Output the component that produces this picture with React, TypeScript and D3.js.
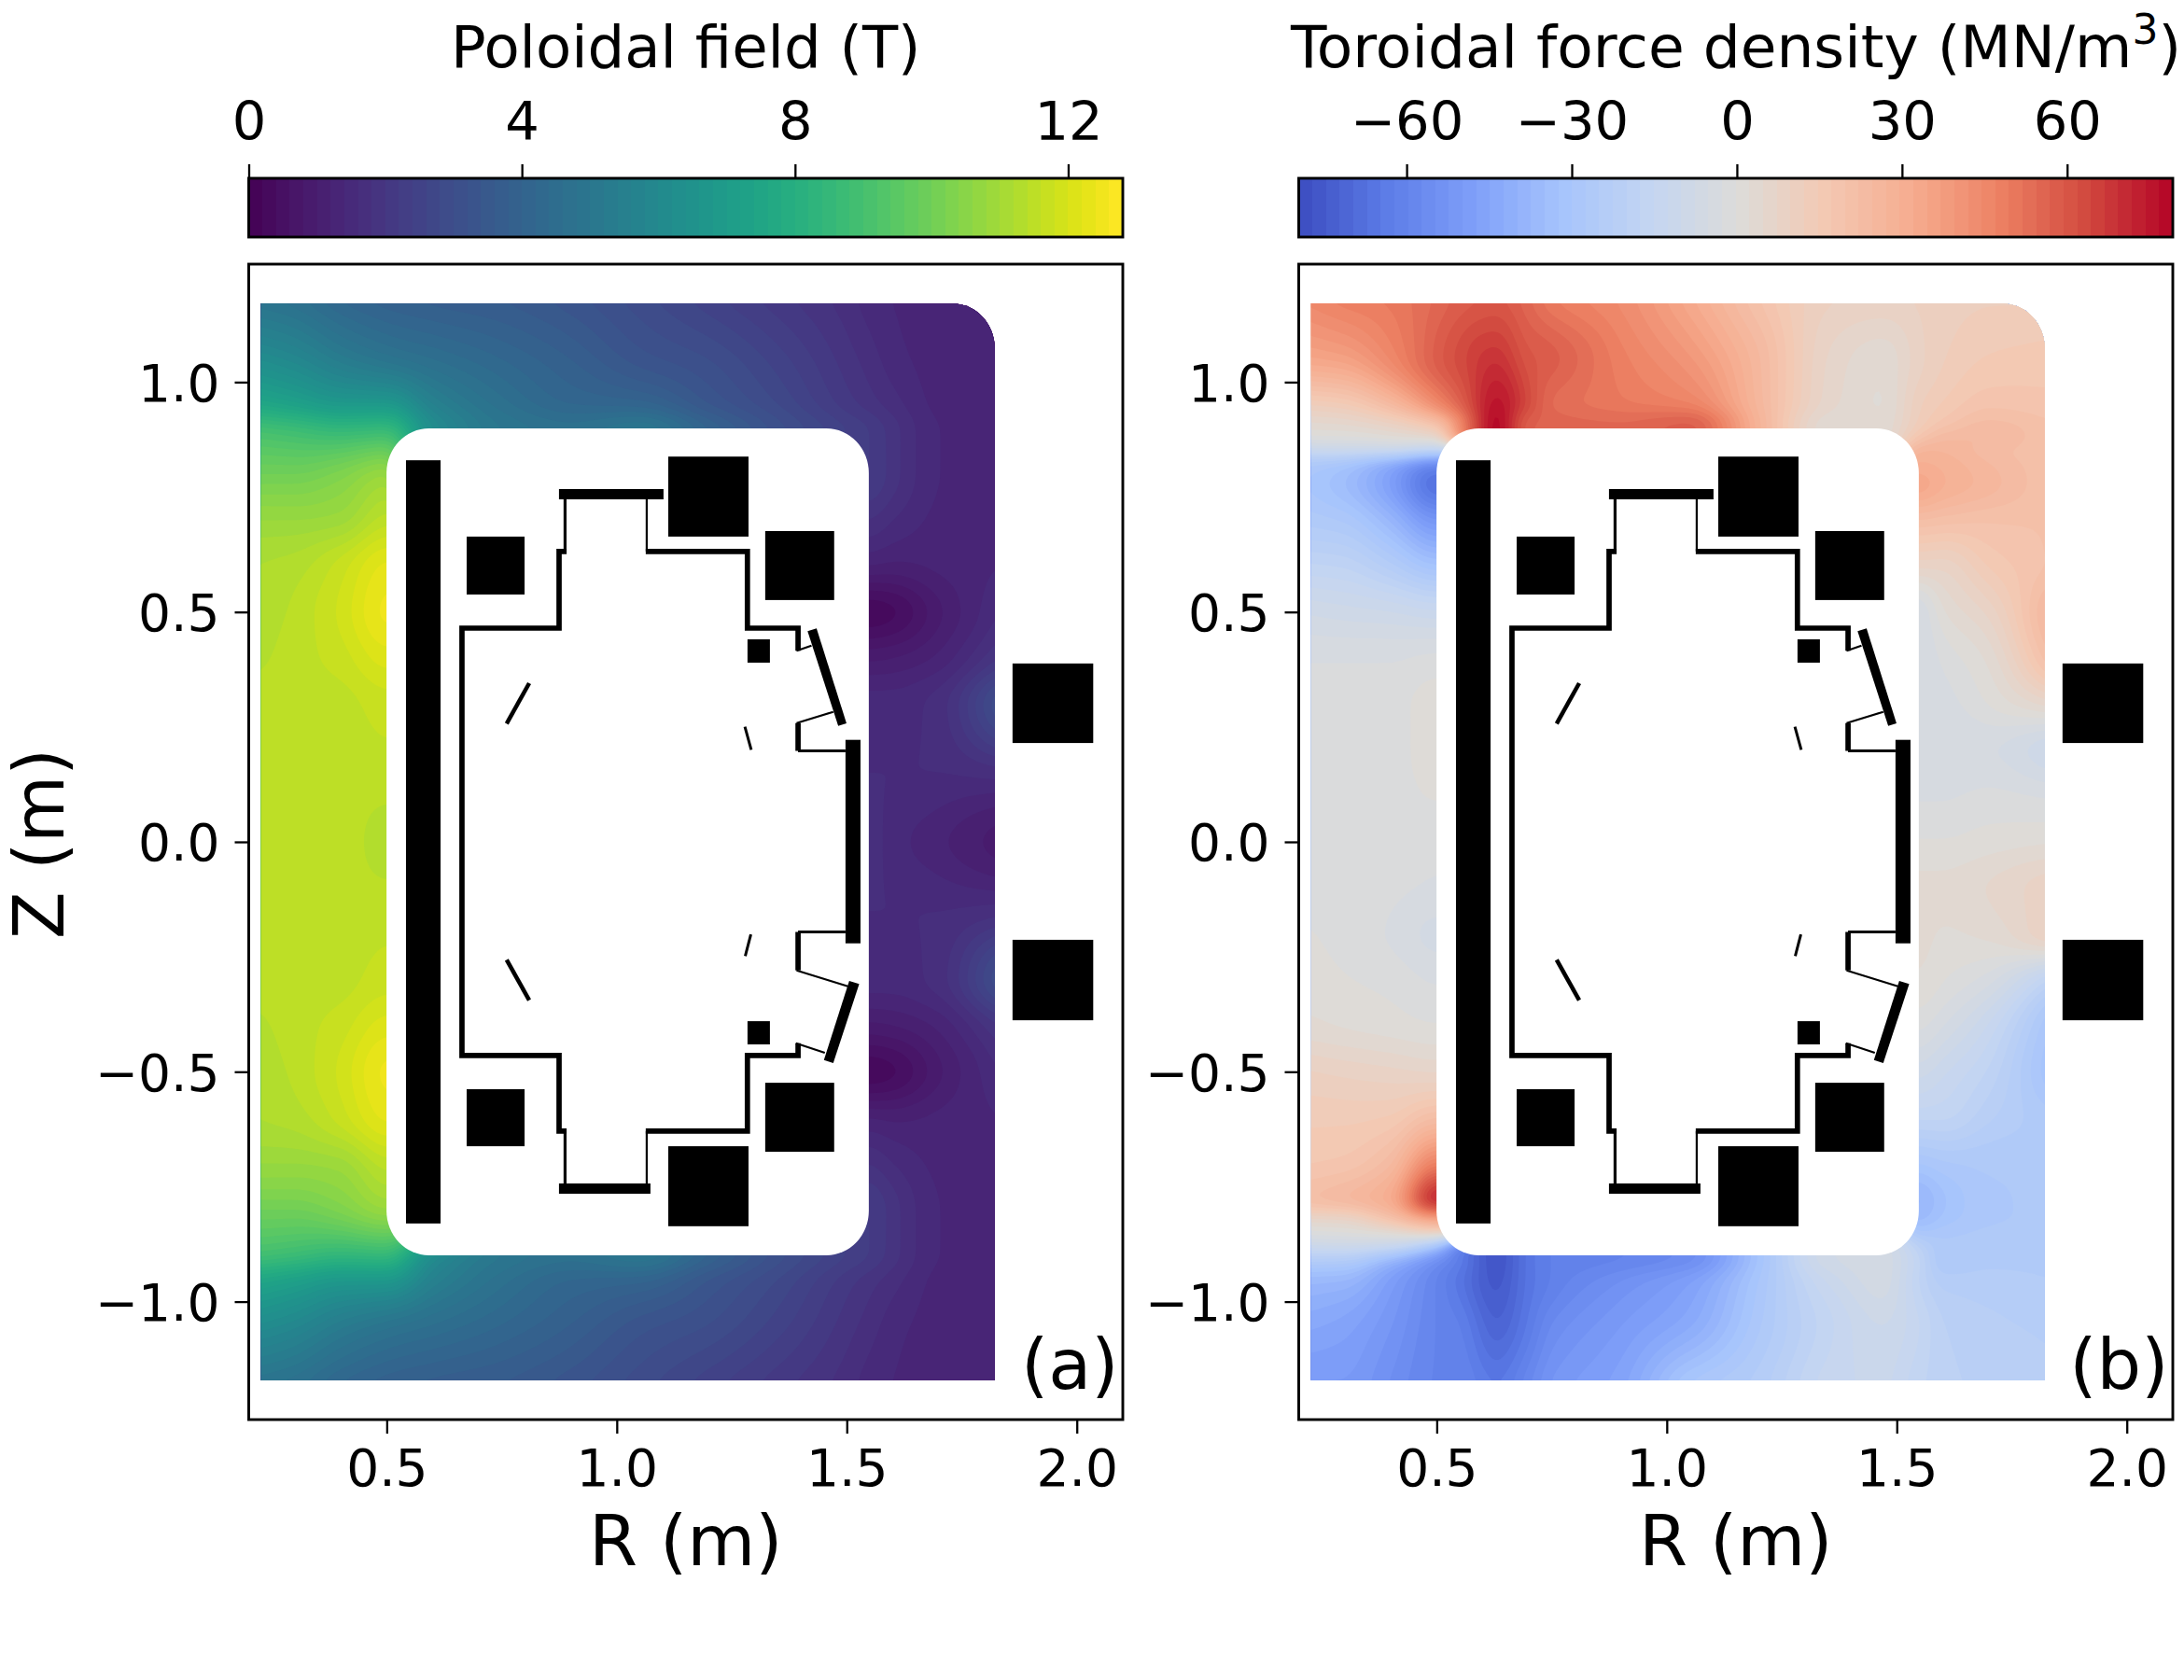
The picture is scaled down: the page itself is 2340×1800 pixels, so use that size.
import React, { useEffect, useRef } from 'react';
import * as d3 from 'd3';

type Pt = [number, number];
type Cell = number | null;

// axes (metres) and colour bars
const rLimits = [0.2, 2.1];
const zLimits = [-1.2566, 1.2566];
const rTicks = [0.5, 1.0, 1.5, 2.0];
const zTicks = [-1.0, -0.5, 0.0, 0.5, 1.0];
const fieldLimits = [0, 12.8];
const fieldTicks = [0, 4, 8, 12];
const forceLimits = [-79.6, 79.2];
const forceTicks = [-60, -30, 0, 30, 60];
const levelCount = 64;

// coolwarm as sampled from the reference colour bar, d3 has no such scheme
const coolwarmStops = ['#3b4cc0', '#5c7ce7', '#7f9ff9', '#a6c4fc', '#c3d5f2', '#dcdcda', '#f3c9b4', '#f6ad90', '#ed8264', '#d24a3f', '#b40426'];

// outline of the sampled region
const regionR = [0.2271, 1.8215];
const regionZ = [-1.171, 1.171];
const holeR = [0.4995, 1.5479];
const holeZ = [-0.8993, 0.8993];
const cornerR = 0.092;
const cornerZ = 0.097;

// machine cross-section: [Rmin, Rmax, Zmin, Zmax]
const solenoid = [[0.5418, 0.617, -0.83, 0.83]];
const coils = [
  [0.6737, 0.7996, 0.538, 0.664], [0.6737, 0.7996, -0.662, -0.538],
  [1.112, 1.2864, 0.664, 0.838], [1.112, 1.2864, -0.836, -0.662],
  [1.3227, 1.4726, 0.526, 0.676], [1.3227, 1.4726, -0.674, -0.524],
  [1.2842, 1.3329, 0.3898, 0.4405], [1.2842, 1.3329, -0.4405, -0.39],
  [1.8603, 2.0357, 0.215, 0.388], [1.8603, 2.0357, -0.388, -0.213],
];
const plates = [
  [0.8744, 1.1016, 0.745, 0.7674], [0.8744, 1.0732, -0.7653, -0.743],
  [1.4972, 1.5298, -0.2207, 0.2219],
];
const slantedPlates: Pt[][] = [
  [[1.4148, 0.4582], [1.4343, 0.4643], [1.4994, 0.2578], [1.4814, 0.2523]],
  [[1.5053, -0.3025], [1.527, -0.3092], [1.4706, -0.4811], [1.4503, -0.4744]],
];
const wallHeavy: Pt[][] = [
  [[0.891, 0.6317], [0.8746, 0.6317], [0.8746, 0.4649], [0.6635, 0.4649], [0.6635, -0.4645], [0.8746, -0.4645], [0.8746, -0.6289], [0.891, -0.6289]],
  [[1.063, 0.6317], [1.284, 0.6317], [1.284, 0.4649], [1.3941, 0.4649], [1.3941, 0.4155]],
  [[1.3941, -0.4379], [1.3941, -0.4645], [1.284, -0.4645], [1.284, -0.6289], [1.063, -0.6289]],
  [[1.3941, 0.2584], [1.3941, 0.1979]],
  [[1.3941, -0.1959], [1.3941, -0.2795]],
];
const wallMedium: Pt[][] = [
  [[0.8876, 0.6317], [0.8876, 0.745]],
  [[0.8876, -0.6289], [0.8876, -0.743]],
  [[1.3941, 0.1979], [1.4972, 0.1979]],
  [[1.3941, -0.1959], [1.4972, -0.1959]],
];
const wallLight: Pt[][] = [
  [[1.0651, 0.6317], [1.0651, 0.745]],
  [[1.0651, -0.6289], [1.0651, -0.743]],
  [[1.3909, 0.4155], [1.4233, 0.4269]],
  [[1.3909, 0.2584], [1.4706, 0.2828]],
  [[1.3909, -0.2795], [1.5024, -0.314]],
  [[1.3895, -0.4379], [1.4523, -0.4588]],
];
const tilesWide: Pt[][] = [
  [[0.7606, 0.2572], [0.8097, 0.3451]],
  [[0.7606, -0.2564], [0.8097, -0.3445]],
];
const tilesNarrow: Pt[][] = [
  [[1.2785, 0.2503], [1.2923, 0.2004]],
  [[1.2915, -0.201], [1.2793, -0.2483]],
];

// values; null = covered by the white machine area
const h7: Cell[] = Array(7).fill(null);
const h9: Cell[] = Array(9).fill(null);

const poloidalR = [0.22, 0.3, 0.4, 0.5, 0.6, 0.75, 0.9, 1.05, 1.2, 1.35, 1.5, 1.55, 1.6, 1.7, 1.83];
const poloidalZHalf = [1.17, 1.05, 0.95, 0.9, 0.8, 0.7, 0.6, 0.5, 0.4, 0.3, 0.15, 0];
const poloidalHalf: Cell[][] = [
  [4.9, 4.7, 4.2, 3.9, 3.75, 3.6, 3.3, 2.9, 2.5, 2.1, 1.7, 1.5, 1.4, 1.2, 1.2],
  [6.2, 5.9, 5.3, 4.9, 4.6, 4.2, 3.8, 3.3, 3.0, 2.5, 1.9, 1.7, 1.5, 1.3, 1.25],
  [7.6, 7.3, 6.9, 6.9, 5.6, 4.7, 4.2, 4.1, 3.4, 2.8, 2.1, 1.9, 1.7, 1.35, 1.3],
  [8.9, 8.7, 8.4, 8.5, 6.2, 5.0, 4.7, 5.0, 4.0, 3.1, 2.4, 2.2, 1.9, 1.4, 1.3],
  [10.0, 10.0, 10.3, 10.8, ...h7, 2.2, 1.9, 1.4, 1.3],
  [10.8, 10.8, 10.9, 11.5, ...h7, 1.8, 1.6, 1.35, 1.3],
  [11.2, 11.3, 11.7, 12.25, ...h7, 1.2, 1.15, 1.25, 1.4],
  [11.25, 11.45, 11.85, 12.45, ...h7, 0.25, 0.35, 0.95, 1.6],
  [11.35, 11.5, 11.7, 12.1, ...h7, 0.95, 1.0, 1.25, 2.0],
  [11.48, 11.5, 11.52, 11.7, ...h7, 1.5, 1.5, 1.7, 3.0],
  [11.5, 11.5, 11.5, 11.52, ...h7, 1.6, 1.6, 1.6, 1.7],
  [11.5, 11.5, 11.5, 11.3, ...h7, 1.7, 1.5, 1.25, 0.9],
];
const poloidalZ = [...poloidalZHalf, ...poloidalZHalf.slice(0, -1).reverse().map(z => -z)];
const poloidalRows = [...poloidalHalf, ...poloidalHalf.slice(0, -1).reverse()];

const forceR = [0.22, 0.3, 0.4, 0.5, 0.55, 0.63, 0.7, 0.75, 0.9, 1.05, 1.2, 1.35, 1.47, 1.55, 1.6, 1.7, 1.83];
const forceZ = [1.17, 1.05, 0.95, 0.91, 0.88, 0.85, 0.82, 0.78, 0.7, 0.6, 0.5, 0.4, 0.3, 0.2, 0.1, 0, -0.1, -0.2, -0.3, -0.4, -0.5, -0.6, -0.7, -0.78, -0.82, -0.85, -0.88, -0.91, -0.95, -1.05, -1.17];
const forceRows: Cell[][] = [
  [45, 48, 50, 55, 58, 60, 55, 50, 44, 33, 20, 10, 9, 10, 11, 12, 12],
  [34, 36, 45, 58, 63, 69, 60, 58, 48, 40, 25, 7, 3, 9, 12, 15, 16],
  [12, 14, 24, 44, 56, 76, 63, 54, 50, 47, 26, 6, 2, 12, 15, 19, 18],
  [4, 5, 9, 20, 44, 79, 57, 56, 55, 58, 28, 3, 3, 13, 18, 23, 20],
  [0, 0, 2, 6, ...h9, 18, 24, 25, 20],
  [-13, -12, -12, -18, ...h9, 28, 27, 23, 20],
  [-28, -32, -45, -60, ...h9, 30, 29, 25, 20],
  [-30, -35, -48, -68, ...h9, 34, 30, 26, 20],
  [-26, -28, -38, -52, ...h9, 22, 21, 20, 20],
  [-17, -18, -24, -32, ...h9, 8, 8, 15, 20],
  [-8, -9, -10, -12, ...h9, -5, 2, 8, 26],
  [-3, -3, -3, -2, ...h9, -5, -2, 3, 22],
  [-1, -1, -1, 1, ...h9, -5, -4, 0, 6],
  [-1, -1, -1, 1, ...h9, -5, -5, -5, -10],
  [-1, -1, -1, 0, ...h9, -3, -3, -2, -3],
  [-1, -1, -1, -2, ...h9, 0, 0, 1, 2],
  [-1, -1, -2, -3, ...h9, 3, 3, 5, 9],
  [0, -1, -3, -6, ...h9, 3, 2, 3, 10],
  [1, 0, -1, -3, ...h9, 2, 0, -4, -18],
  [3, 2, 1, 0, ...h9, -2, -5, -13, -30],
  [10, 9, 8, 7, ...h9, -9, -12, -18, -32],
  [14, 14, 15, 22, ...h9, -17, -17, -22, -27],
  [17, 18, 24, 48, ...h9, -30, -28, -27, -27],
  [22, 25, 32, 72, ...h9, -38, -33, -28, -27],
  [6, 7, 20, 35, ...h9, -36, -32, -28, -27],
  [-1, 0, 2, 10, ...h9, -30, -28, -27, -27],
  [-11, -10, -12, -32, ...h9, -20, -27, -27, -27],
  [-24, -25, -38, -55, -63, -77, -66, -62, -60, -56, -32, -8, -6, -17, -28, -26, -26],
  [-36, -37, -48, -60, -66, -76, -66, -62, -55, -48, -30, -12, -6, -18, -24, -24, -25],
  [-44, -46, -52, -60, -62, -72, -64, -57, -50, -43, -28, -16, -10, -15, -20, -22, -23],
  [-50, -50, -55, -60, -60, -65, -58, -52, -46, -30, -24, -14, -12, -17, -19, -21, -22],
];

const FONT = '"DejaVu Sans", sans-serif';
const GRID_STEP = 3; // px per sample of the contour grid

// hidden cells take the closest visible value so the hole edge stays clean
function fillHidden(rows: Cell[][], rs: number[], zs: number[]): number[][] {
  const known: { r: number; z: number; v: number }[] = [];
  rows.forEach((row, j) => row.forEach((v, i) => {
    if (v !== null) known.push({ r: rs[i], z: zs[j], v });
  }));
  return rows.map((row, j) => row.map((v, i) => {
    if (v !== null) return v;
    const near = d3.least(known, k => (k.r - rs[i]) ** 2 + (k.z - zs[j]) ** 2);
    return near ? near.v : 0;
  }));
}

// monotone cubic through the table nodes, no overshoot between them
function monotoneSpline(xs: number[], ys: number[]) {
  const n = xs.length;
  const d = d3.range(n - 1).map(i => (ys[i + 1] - ys[i]) / (xs[i + 1] - xs[i]));
  const m = xs.map((_, i) => {
    if (i === 0) return d[0];
    if (i === n - 1) return d[n - 2];
    return d[i - 1] * d[i] <= 0 ? 0 : (2 * d[i - 1] * d[i]) / (d[i - 1] + d[i]);
  });
  return (i0: number, t: number) => {
    const h = xs[i0 + 1] - xs[i0];
    const t2 = t * t;
    const t3 = t2 * t;
    return (2 * t3 - 3 * t2 + 1) * ys[i0] + (t3 - 2 * t2 + t) * h * m[i0] +
      (-2 * t3 + 3 * t2) * ys[i0 + 1] + (t3 - t2) * h * m[i0 + 1];
  };
}

interface PanelConfig {
  key: string;
  left: number;
  width: number;
  rows: Cell[][];
  rNodes: number[];
  zNodes: number[];
  limits: number[];
  ticks: number[];
  color: (t: number) => string;
  letter: string;
}

function drawPanel(svg: d3.Selection<SVGSVGElement, unknown, null, undefined>, cfg: PanelConfig) {
  const top = 283;
  const bottom = 1521;
  const barTop = 191;
  const barBottom = 254;
  const right = cfg.left + cfg.width;

  const x = d3.scaleLinear().domain(rLimits).range([cfg.left, right]);
  const y = d3.scaleLinear().domain(zLimits).range([bottom, top]);
  const bar = d3.scaleLinear().domain(cfg.limits).range([cfg.left, right]);

  const levels = d3.range(levelCount + 1).map(i => cfg.limits[0] + (cfg.limits[1] - cfg.limits[0]) * i / levelCount);
  const bandColor = (k: number) => cfg.color((k + 0.5) / levelCount);

  // resample the read-off table on a regular grid, then contour it
  const table = fillHidden(cfg.rows, cfg.rNodes, cfg.zNodes);
  const rIndex = d3.scaleLinear().domain(cfg.rNodes).range(d3.range(cfg.rNodes.length)).clamp(true);
  const zIndex = d3.scaleLinear().domain(cfg.zNodes).range(d3.range(cfg.zNodes.length)).clamp(true);
  const rStart = regionR[0] - 0.02;
  const zStart = regionZ[1] + 0.02;
  const dr = GRID_STEP / (x(1) - x(0));
  const dz = GRID_STEP / (y(0) - y(1));
  const nx = Math.ceil((regionR[1] - regionR[0] + 0.04) / dr) + 1;
  const nz = Math.ceil((regionZ[1] - regionZ[0] + 0.04) / dz) + 1;

  const rowSplines = table.map(row => monotoneSpline(cfg.rNodes, row));
  const values = new Float64Array(nx * nz);
  for (let i = 0; i < nx; i++) {
    const fr = rIndex(rStart + i * dr);
    const i0 = Math.min(Math.floor(fr), cfg.rNodes.length - 2);
    const column = rowSplines.map(s => s(i0, fr - i0));
    const columnSpline = monotoneSpline(cfg.zNodes, column);
    for (let j = 0; j < nz; j++) {
      const fz = zIndex(zStart - j * dz);
      const j0 = Math.min(Math.floor(fz), cfg.zNodes.length - 2);
      values[j * nx + i] = columnSpline(j0, fz - j0);
    }
  }
  d3.blur2({ data: values, width: nx, height: nz }, 1.5);

  const project = d3.geoTransform({
    point(px: number, py: number) {
      (this as any).stream.point(x(rStart + (px - 0.5) * dr), y(zStart - (py - 0.5) * dz));
    },
  });
  const path = d3.geoPath(project);
  const contours = d3.contours().size([nx, nz]).thresholds(levels.slice(1, -1))(values as any);

  const clipId = `region-${cfg.key}`;
  const rx = x(regionR[0] + cornerR) - x(regionR[0]);
  const ry = y(0) - y(cornerZ);
  d3.select(svg.node()).append('clipPath').attr('id', clipId).append('path').attr('d',
    `M${x(regionR[0])},${y(regionZ[1])}H${x(regionR[1]) - rx}A${rx},${ry} 0 0 1 ${x(regionR[1])},${y(regionZ[1]) + ry}V${y(regionZ[0])}H${x(regionR[0])}Z`);

  const field = svg.append('g').attr('clip-path', `url(#${clipId})`);
  field.append('rect')
    .attr('x', x(regionR[0]) - 4).attr('y', y(regionZ[1]) - 4)
    .attr('width', x(regionR[1]) - x(regionR[0]) + 8).attr('height', y(regionZ[0]) - y(regionZ[1]) + 8)
    .attr('fill', bandColor(0));
  field.selectAll('path.band').data(contours).enter().append('path')
    .attr('class', 'band')
    .attr('d', d => path(d as any))
    .attr('fill', (_, k) => bandColor(k + 1));

  // white machine area
  svg.append('rect')
    .attr('x', x(holeR[0])).attr('y', y(holeZ[1]))
    .attr('width', x(holeR[1]) - x(holeR[0])).attr('height', y(holeZ[0]) - y(holeZ[1]))
    .attr('rx', rx).attr('ry', ry).attr('fill', 'white');

  const rects = [...solenoid, ...coils, ...plates];
  svg.append('g').selectAll('rect').data(rects).enter().append('rect')
    .attr('x', d => x(d[0])).attr('width', d => x(d[1]) - x(d[0]))
    .attr('y', d => y(d[3])).attr('height', d => y(d[2]) - y(d[3]))
    .attr('fill', 'black');

  const line = d3.line<Pt>().x(d => x(d[0])).y(d => y(d[1]));
  svg.append('g').selectAll('path').data(slantedPlates).enter().append('path')
    .attr('d', d => line(d) + 'Z').attr('fill', 'black');
  const strokes: [Pt[][], number][] = [[wallHeavy, 5.7], [wallMedium, 3.2], [wallLight, 2.2], [tilesWide, 4.5], [tilesNarrow, 3]];
  strokes.forEach(([lines, w]) => {
    svg.append('g').selectAll('path').data(lines).enter().append('path')
      .attr('d', d => line(d))
      .attr('fill', 'none').attr('stroke', 'black').attr('stroke-width', w);
  });

  // colour bar
  svg.append('g').selectAll('rect').data(levels.slice(0, -1)).enter().append('rect')
    .attr('x', d => bar(d))
    .attr('width', (_, k) => bar(levels[k + 1]) - bar(levels[k]) + 0.6)
    .attr('y', barTop).attr('height', barBottom - barTop)
    .attr('fill', (_, k) => bandColor(k))
    .attr('shape-rendering', 'crispEdges');
  svg.append('rect').attr('x', cfg.left).attr('y', barTop).attr('width', cfg.width).attr('height', barBottom - barTop)
    .attr('fill', 'none').attr('stroke', 'black').attr('stroke-width', 2.9);

  const barAxis = svg.append('g').attr('transform', `translate(0,${barTop})`)
    .call(d3.axisTop(bar).tickValues(cfg.ticks).tickSize(15).tickPadding(26));
  barAxis.selectAll('text').attr('font-size', 57.5).attr('font-family', FONT).attr('fill', 'black');

  // frame and axes
  svg.append('rect').attr('x', cfg.left).attr('y', top).attr('width', cfg.width).attr('height', bottom - top)
    .attr('fill', 'none').attr('stroke', 'black').attr('stroke-width', 2.9);

  const xAxis = svg.append('g').attr('transform', `translate(0,${bottom})`)
    .call(d3.axisBottom(x).tickValues(rTicks).tickFormat(d3.format('.1f') as any).tickSize(15).tickPadding(17));
  xAxis.selectAll('text').attr('font-size', 55).attr('font-family', FONT).attr('fill', 'black');

  const yAxis = svg.append('g').attr('transform', `translate(${cfg.left},0)`)
    .call(d3.axisLeft(y).tickValues(zTicks).tickFormat(d3.format('.1f') as any).tickSize(15).tickPadding(16));
  yAxis.selectAll('text').attr('font-size', 55).attr('font-family', FONT).attr('fill', 'black').attr('dy', '0.36em');

  [barAxis, xAxis, yAxis].forEach(a => {
    a.select('.domain').remove();
    a.selectAll('line').attr('stroke', 'black').attr('stroke-width', 2.3);
    a.attr('font-family', null).attr('font-size', null);
  });

  svg.append('text').attr('x', (cfg.left + right) / 2).attr('y', 1677)
    .attr('text-anchor', 'middle').attr('font-family', FONT).attr('font-size', 75)
    .text('R (m)');
  svg.append('text').attr('x', right - 4.5).attr('y', 1488)
    .attr('text-anchor', 'end').attr('font-family', FONT).attr('font-size', 75)
    .text(cfg.letter);
}

const App: React.FC = () => {
  const svgRef = useRef<SVGSVGElement>(null);

  useEffect(() => {
    if (!svgRef.current) return;
    const svg = d3.select(svgRef.current);
    svg.selectAll('*').remove();

    svg.append('rect').attr('width', 2340).attr('height', 1800).attr('fill', 'white');

    const coolwarm = d3.scaleLinear<string>()
      .domain(coolwarmStops.map((_, i) => i / (coolwarmStops.length - 1)))
      .range(coolwarmStops);

    drawPanel(svg, {
      key: 'a', left: 266.5, width: 936.5,
      rows: poloidalRows, rNodes: poloidalR, zNodes: poloidalZ,
      limits: fieldLimits, ticks: fieldTicks,
      color: d3.interpolateViridis, letter: '(a)',
    });
    drawPanel(svg, {
      key: 'b', left: 1391.5, width: 936.5,
      rows: forceRows, rNodes: forceR, zNodes: forceZ,
      limits: forceLimits, ticks: forceTicks,
      color: coolwarm, letter: '(b)',
    });

    svg.append('text').attr('x', 734.7).attr('y', 72)
      .attr('text-anchor', 'middle').attr('font-family', FONT).attr('font-size', 62.5)
      .text('Poloidal field (T)');

    const force = svg.append('text').attr('x', 1860).attr('y', 72)
      .attr('text-anchor', 'middle').attr('font-family', FONT).attr('font-size', 63);
    force.append('tspan').text('Toroidal force density (MN/m');
    force.append('tspan').attr('dy', -25).attr('font-size', 44).text('3');
    force.append('tspan').attr('dy', 25).text(')');

    svg.append('text')
      .attr('transform', 'translate(68,904) rotate(-90)')
      .attr('text-anchor', 'middle').attr('font-family', FONT).attr('font-size', 74)
      .text('Z (m)');
  }, []);

  return <svg ref={svgRef} width={2340} height={1800} style={{ position: 'absolute', left: 0, top: 0 }} />;
};

export default App;
